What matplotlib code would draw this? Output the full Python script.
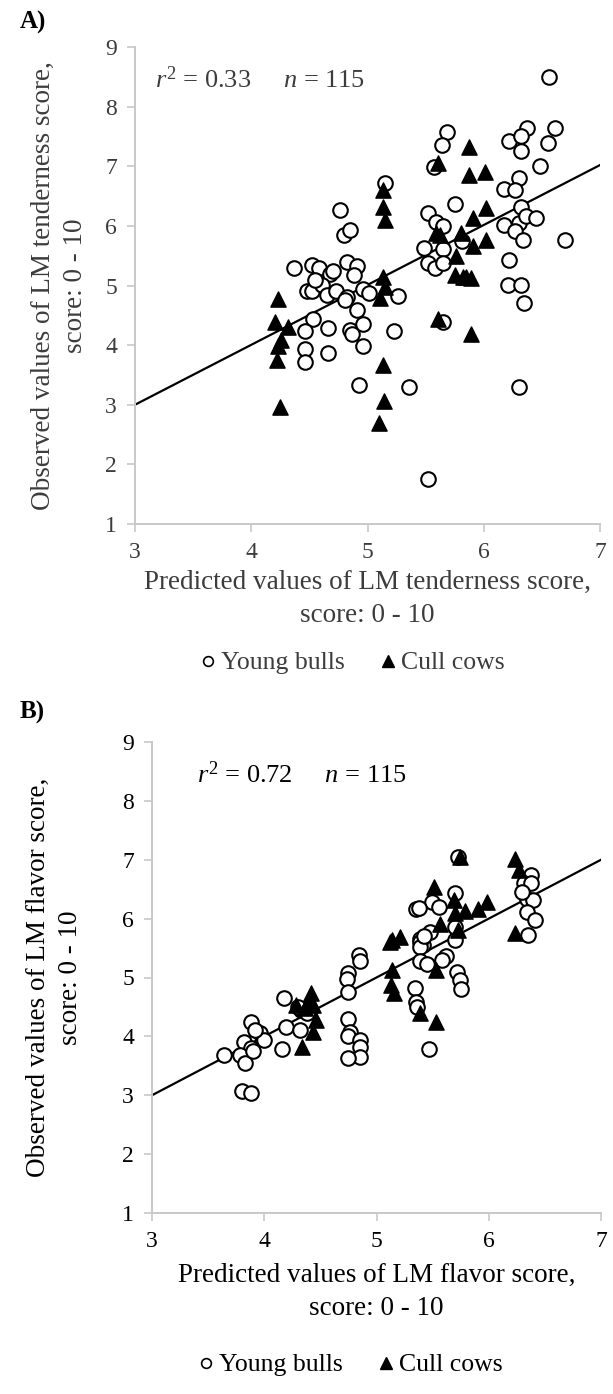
import matplotlib
matplotlib.use("Agg")
import matplotlib.pyplot as plt
from matplotlib.lines import Line2D

plt.rcParams["font.family"] = ["Liberation Serif", "DejaVu Serif"]
plt.rcParams["mathtext.fontset"] = "custom"
plt.rcParams["mathtext.rm"] = "Liberation Serif"
plt.rcParams["mathtext.it"] = "Liberation Serif:italic"

# ── 1. Data: panel A (tenderness) ────────────────────────────────
bulls_a_x = [6.56, 6.37, 6.61, 6.22, 6.32, 6.55, 6.32, 5.68, 5.64, 5.57,
             6.48, 6.30, 6.17, 6.27, 5.15, 4.76, 4.80, 4.85, 5.75, 6.32,
             5.52, 5.59, 5.65, 6.17, 6.30, 6.36, 6.45, 6.27, 6.34, 6.70,
             5.49, 5.65, 5.81, 6.22, 5.52, 5.58, 5.65, 6.21, 6.32, 4.37,
             4.52, 4.58, 4.68, 4.82, 4.91, 4.88, 4.48, 4.52, 4.61, 4.65,
             4.73, 4.82, 4.81, 4.96, 5.01, 4.91, 5.26, 4.53, 4.46, 4.66,
             4.85, 4.87, 4.96, 4.96, 4.46, 4.46, 4.66, 5.23, 4.93, 5.36,
             5.52, 6.30, 5.65, 6.35, 4.70, 4.55]
bulls_a_y = [8.50, 7.64, 7.64, 7.42, 7.50, 7.39, 7.25, 7.58, 7.36, 6.98,
             7.01, 6.81, 6.62, 6.60, 6.72, 6.27, 5.85, 5.93, 6.37, 6.32,
             6.21, 6.06, 5.99, 6.02, 6.05, 6.16, 6.13, 5.91, 5.77, 5.77,
             5.63, 5.61, 5.75, 5.42, 5.37, 5.29, 5.37, 5.01, 5.01, 5.29,
             5.35, 5.29, 5.20, 5.40, 5.32, 5.18, 4.90, 4.90, 5.01, 4.84,
             4.91, 4.81, 4.76, 4.94, 4.88, 4.59, 4.83, 4.43, 4.23, 4.28,
             4.26, 4.19, 4.36, 3.99, 3.93, 3.72, 3.87, 4.23, 3.33, 3.29,
             1.75, 3.29, 4.39, 4.70, 5.25, 5.10]

cows_a_x = [5.87, 5.61, 5.87, 6.01, 5.13, 5.13, 5.15, 5.91, 6.02, 5.59,
            5.80, 5.91, 6.02, 5.76, 5.75, 5.82, 5.89, 5.13, 5.15, 5.11,
            4.23, 4.20, 4.32, 4.26, 4.23, 4.22, 4.25, 5.13, 5.14, 5.10,
            5.61, 5.89, 5.62, 5.85]
cows_a_y = [7.33, 7.05, 6.86, 6.90, 6.60, 6.32, 6.10, 6.13, 6.30, 5.88,
            5.88, 5.66, 5.77, 5.49, 5.18, 5.15, 5.12, 5.15, 4.98, 4.79,
            4.77, 4.39, 4.31, 4.09, 3.98, 3.75, 2.97, 3.67, 3.07, 2.69,
            4.43, 4.19, 5.84, 5.14]

# ── 2. Data: panel B (flavor) ────────────────────────────────────
bulls_b_x = [5.73, 6.38, 6.31, 6.38, 6.34, 6.39, 6.34, 6.41, 6.35, 6.30,
             5.70, 5.49, 5.35, 5.56, 5.38, 5.48, 5.70, 5.39, 5.41, 5.70,
             4.84, 4.85, 5.39, 5.39, 5.62, 5.39, 5.45, 5.72, 5.74, 5.75,
             5.34, 5.35, 5.36, 5.47, 4.75, 4.74, 4.75, 4.75, 4.76, 4.75,
             4.85, 4.85, 4.85, 4.75, 4.18, 4.19, 4.32, 4.16, 4.33, 3.88,
             3.96, 4.00, 3.82, 3.88, 3.78, 3.83, 3.64, 3.92, 3.90, 3.80,
             3.88, 4.30, 4.38, 5.42, 5.58]
bulls_b_y = [7.05, 6.74, 6.61, 6.60, 6.34, 6.31, 6.12, 5.97, 5.72, 6.45,
             6.43, 6.29, 6.17, 6.20, 6.18, 5.78, 5.86, 5.66, 5.55, 5.63,
             5.38, 5.28, 5.61, 5.52, 5.36, 5.28, 5.23, 5.10, 4.96, 4.80,
             4.83, 4.59, 4.50, 3.78, 5.07, 4.98, 4.76, 4.29, 4.08, 4.00,
             3.94, 3.82, 3.65, 3.63, 4.65, 4.16, 4.11, 3.78, 4.44, 4.25,
             4.05, 3.94, 3.91, 3.81, 3.68, 3.55, 3.68, 4.10, 3.75, 3.08,
             3.04, 4.50, 4.40, 5.70, 5.30]

cows_b_x = [5.74, 6.23, 6.27, 6.23, 5.51, 5.69, 5.79, 5.90, 5.98, 5.57,
            5.73, 5.14, 5.21, 5.12, 5.53, 5.14, 5.13, 5.16, 5.39, 5.53,
            4.42, 4.28, 4.36, 4.43, 4.46, 4.43, 4.34, 5.70, 4.40]
cows_b_y = [7.05, 7.02, 6.82, 5.75, 6.54, 6.31, 6.13, 6.17, 6.29, 5.91,
            5.80, 5.63, 5.69, 5.61, 5.13, 5.13, 4.87, 4.73, 4.39, 4.25,
            4.73, 4.53, 4.48, 4.53, 4.28, 4.08, 3.82, 6.10, 4.62]

# regression lines (end points)
line_a_x, line_a_y = [3, 7], [3, 7.02]
line_b_x, line_b_y = [3, 7], [3, 7.0]

ticks_x = [3, 4, 5, 6, 7]
ticks_y = [1, 2, 3, 4, 5, 6, 7, 8, 9]

# ── 3. Figure ─────────────────────────────────────────────────────
W, H = 613, 1394
fig = plt.figure(figsize=(W / 100, H / 100), dpi=100)


def px_axes(left, top, right, bottom):
    return fig.add_axes([left / W, 1 - bottom / H, (right - left) / W, (bottom - top) / H])


def draw_panel(ax, bx, by, cx, cy, lx, ly, txt, tx, tcol):
    ax.plot(lx, ly, color="black", lw=1.6, zorder=1)
    ax.scatter(bx, by, s=110, facecolors="white", edgecolors="black", linewidths=1.5, marker="o", zorder=2)
    ax.scatter(cx, cy, s=120, color="black", marker="^", zorder=3)
    ax.set_xlim(3, 7)
    ax.set_ylim(1, 9)
    ax.set_xticks(ticks_x)
    ax.set_yticks(ticks_y)
    ax.spines[["top", "right"]].set_visible(False)
    for s in ["left", "bottom"]:
        ax.spines[s].set_color("#c8c8c8")
        ax.spines[s].set_linewidth(1.4)
    ax.tick_params(direction="out", length=6, width=1.2, color="#c8c8c8",
                   labelsize=17, labelcolor=tcol, pad=7)
    ax.text(tx, 8.45, txt, fontsize=19, color=tcol, va="center")


# Panel A
axA = px_axes(135, 47, 600, 524)
draw_panel(axA, bulls_a_x, bulls_a_y, cows_a_x, cows_a_y, line_a_x, line_a_y,
           r"$r^2$ = 0.33     $n$ = 115", 3.17, "#3c3c3c")
axA.set_xlabel("Predicted values of LM tenderness score,\nscore: 0 - 10",
               fontsize=19.5, color="#3c3c3c", labelpad=5, linespacing=1.4)
axA.set_ylabel("Observed values of LM tenderness score,\nscore: 0 - 10",
               fontsize=19.5, color="#3c3c3c", labelpad=12, linespacing=1.4)
fig.text(20 / W, 1 - 22 / H, "A)", fontsize=18, fontweight="bold", va="center")

# Panel B
axB = px_axes(152, 742, 601, 1213)
draw_panel(axB, bulls_b_x, bulls_b_y, cows_b_x, cows_b_y, line_b_x, line_b_y,
           r"$r^2$ = 0.72     $n$ = 115", 3.40, "black")
axB.set_xlabel("Predicted values of LM flavor score,\nscore: 0 - 10",
               fontsize=19.5, color="black", labelpad=8, linespacing=1.4)
axB.set_ylabel("Observed values of LM flavor score,\nscore: 0 - 10",
               fontsize=19.5, color="black", labelpad=28, linespacing=1.4)
fig.text(20 / W, 1 - 712 / H, "B)", fontsize=18, fontweight="bold", va="center")

# ── 4. Legends ────────────────────────────────────────────────────
handles = [Line2D([], [], marker="o", ls="", markerfacecolor="white", markeredgecolor="black",
                  markersize=7, markeredgewidth=1.2, label="Young bulls"),
           Line2D([], [], marker="^", ls="", color="black", markersize=8, label="Cull cows")]
for yc, xc, tcol in [(663, 350, "#3c3c3c"), (1365, 348, "black")]:
    fig.legend(handles=handles, loc="center", bbox_to_anchor=(xc / W, 1 - yc / H), ncol=2,
               frameon=False, fontsize=18.5, handletextpad=0.0, columnspacing=1.2,
               handlelength=1.0, labelcolor=tcol)

plt.savefig("out.png", dpi=100)
